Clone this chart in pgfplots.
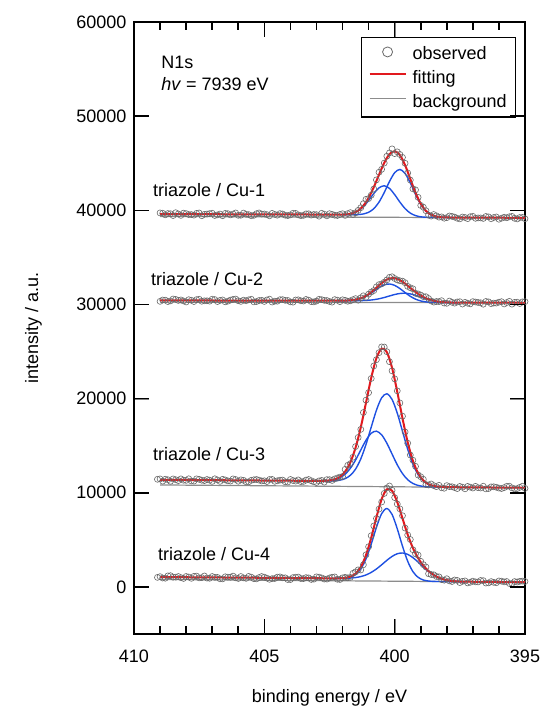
\documentclass[border=0pt]{standalone}
\usepackage{fontspec}
\setmainfont{Liberation Sans}
\usepackage{pgfplots}
\pgfplotsset{compat=1.18}
\usepackage{pgfplotstable}

\definecolor{fitred}{RGB}{225,25,30}
\definecolor{compblue}{RGB}{30,80,225}
\definecolor{bggray}{RGB}{140,140,140}
\definecolor{obsgray}{RGB}{105,105,105}

% fitted curves: x  component1  component2  fit
\pgfplotstableread{
x A B fit
402.0 39544 39525 39544
401.8 39585 39525 39587
401.6 39698 39529 39706
401.4 39943 39548 39973
401.2 40391 39614 40490
401.0 41043 39790 41324
400.8 41786 40174 42461
400.6 42388 40871 43778
400.4 42605 41890 45040
400.2 42327 43050 45957
400.0 41666 43994 46281
399.8 40872 44338 45872
399.6 40179 43918 44794
399.4 39702 42907 43332
399.2 39436 41694 41871
399.0 39311 40639 40701
398.8 39262 39918 39937
398.6 39245 39521 39526
398.4 39238 39336 39337
398.2 39235 39265 39265
398.0 39233 39241 39241
397.8 39231 39233 39233
}\fitone

\pgfplotstableread{
x A B fit
402.2 30398 30396 30398
402.0 30404 30395 30404
401.8 30421 30395 30422
401.6 30466 30397 30470
401.4 30562 30402 30573
401.2 30743 30417 30770
401.0 31028 30448 31090
400.8 31400 30507 31528
400.6 31788 30604 32025
400.4 32081 30739 32471
400.2 32174 30901 32751
400.0 32027 31056 32788
399.8 31687 31165 32586
399.6 31262 31191 32212
399.4 30865 31122 31764
399.2 30564 30972 31325
399.0 30375 30781 30952
398.8 30273 30590 30663
398.6 30225 30435 30462
398.4 30206 30325 30334
398.2 30198 30258 30260
398.0 30195 30222 30222
397.8 30194 30205 30205
397.6 30193 30197 30197
}\fittwo

\pgfplotstableread{
x A B fit
402.9 11256 11250 11257
402.7 11267 11248 11270
402.5 11302 11253 11314
402.3 11394 11274 11432
402.1 11595 11339 11702
401.9 11973 11503 12250
401.7 12597 11856 13233
401.5 13479 12513 14786
401.3 14542 13595 16952
401.1 15578 15126 19556
400.9 16320 16965 22196
400.7 16542 18766 24296
400.5 16154 20080 25311
400.3 15264 20514 24944
400.1 14113 19913 23270
399.9 12971 18452 20725
399.7 12038 16537 17914
399.5 11386 14617 15364
399.3 10989 13036 13399
399.1 10778 11927 12085
398.9 10675 11250 11311
398.7 10631 10886 10908
398.5 10612 10712 10719
398.3 10603 10639 10641
398.1 10597 10608 10609
397.9 10592 10595 10595
}\fitthree

\pgfplotstableread{
x A B fit
402.3 908 909 911
402.1 913 910 921
401.9 943 919 964
401.7 1043 944 1093
401.5 1312 996 1420
401.3 1902 1100 2119
401.1 2974 1273 3372
400.9 4539 1541 5218
400.7 6324 1905 7386
400.5 7784 2349 9318
400.3 8328 2822 10372
400.1 7703 3239 10208
399.9 6172 3523 9004
399.7 4331 3604 7281
399.5 2724 3457 5556
399.3 1625 3111 4130
399.1 1018 2638 3062
398.9 735 2120 2269
398.7 625 1642 1687
398.5 586 1254 1265
398.3 573 969 971
398.1 566 783 783
397.9 562 670 670
397.7 558 608 608
397.5 554 575 575
397.3 549 557 557
}\fitfour

% observed points
\pgfplotstableread{
x y
409.0 39720
408.8 39518
408.6 39636
408.4 39744
408.2 39461
408.0 39649
407.8 39547
407.6 39675
407.4 39423
407.2 39601
407.0 39689
406.8 39516
406.6 39424
406.4 39642
406.2 39600
406.0 39468
405.8 39706
405.6 39544
405.4 39471
405.2 39719
405.0 39607
404.8 39415
404.6 39563
404.4 39651
404.2 39479
404.0 39516
403.8 39674
403.6 39432
403.4 39620
403.2 39488
403.0 39536
402.8 39684
402.6 39411
402.4 39569
402.2 39447
402.0 39634
401.8 39647
401.6 39556
401.4 39993
401.2 40710
401.0 41244
400.8 42261
400.6 44038
400.4 45020
400.2 46097
400.0 46021
399.8 45932
399.6 44994
399.4 43212
399.2 42171
399.0 40521
398.8 39957
398.6 39386
398.4 39417
398.2 39305
398.0 39221
397.8 39353
397.6 39158
397.4 39286
397.2 39114
397.0 39361
396.8 39189
396.6 39137
396.4 39305
396.2 39233
396.0 39051
395.8 39259
395.6 39316
395.4 39154
395.2 39232
395.0 39100
408.9 39689
408.7 39657
408.5 39445
408.3 39613
408.1 39700
407.9 39548
407.7 39486
407.5 39714
407.3 39572
407.1 39650
406.9 39448
406.7 39605
406.5 39673
406.3 39511
406.1 39719
405.9 39477
405.7 39575
405.5 39423
405.3 39640
405.1 39598
404.9 39536
404.7 39674
404.5 39482
404.3 39610
404.1 39438
403.9 39685
403.7 39513
403.5 39461
403.3 39629
403.1 39557
402.9 39375
402.7 39583
402.5 39640
402.3 39478
402.1 39556
401.9 39459
401.7 39753
401.5 39736
401.3 40277
401.1 41164
400.9 41602
400.7 43231
400.5 44351
400.3 45741
400.1 46525
399.9 46210
399.7 45620
399.5 43968
399.3 42282
399.1 41375
398.9 40331
398.7 39496
398.5 39550
398.3 39272
398.1 39160
397.9 39396
397.7 39279
397.5 39087
397.3 39235
397.1 39323
396.9 39150
396.7 39188
396.5 39346
396.3 39104
396.1 39292
395.9 39160
395.7 39208
395.5 39355
395.3 39083
395.1 39241
}\obsone

\pgfplotstableread{
x y
409.0 30330
408.8 30459
408.6 30378
408.4 30537
408.2 30476
408.0 30265
407.8 30444
407.6 30513
407.4 30342
407.2 30391
407.0 30560
406.8 30309
406.6 30478
406.4 30347
406.2 30536
406.0 30395
405.8 30454
405.6 30493
405.4 30272
405.2 30421
405.0 30320
404.8 30559
404.6 30348
404.4 30507
404.2 30436
404.0 30275
403.8 30474
403.6 30393
403.4 30532
403.2 30301
403.0 30360
402.8 30509
402.6 30418
402.4 30247
402.2 30458
402.0 30494
401.8 30342
401.6 30510
401.4 30453
401.2 30920
401.0 31090
400.8 31478
400.6 32105
400.4 32361
400.2 32881
400.0 32758
399.8 32516
399.6 32312
399.4 31774
399.2 31185
399.0 31002
398.8 30823
398.6 30372
398.4 30314
398.2 30400
398.0 30122
397.8 30235
397.6 30267
397.4 30042
397.2 30131
397.0 30300
396.8 30209
396.6 30028
396.4 30277
396.2 30146
396.0 30245
395.8 30054
395.6 30333
395.4 30222
395.2 30101
395.0 30300
408.9 30470
408.7 30308
408.5 30577
408.3 30426
408.1 30375
407.9 30504
407.7 30313
407.5 30552
407.3 30391
407.1 30350
406.9 30519
406.7 30428
406.5 30277
406.3 30466
406.1 30575
405.9 30324
405.7 30393
405.5 30552
405.3 30311
405.1 30440
404.9 30479
404.7 30258
404.5 30347
404.3 30516
404.1 30425
403.9 30244
403.7 30493
403.5 30362
403.3 30461
403.1 30270
402.9 30549
402.7 30438
402.5 30317
402.3 30516
402.1 30301
401.9 30442
401.7 30391
401.5 30622
401.3 30708
401.1 30755
400.9 31318
400.7 31866
400.5 32183
400.3 32609
400.1 32942
399.9 32604
399.7 32475
399.5 31922
399.3 31660
399.1 31109
398.9 30837
398.7 30634
398.5 30251
398.3 30303
398.1 30148
397.9 30362
397.7 30140
397.5 30293
397.3 30222
397.1 30061
396.9 30260
396.7 30179
396.5 30318
396.3 30087
396.1 30146
395.9 30295
395.7 30204
395.5 30033
395.3 30242
395.1 30271
}\obstwo

\pgfplotstableread{
x y
409.1 11432
408.9 11238
408.7 11384
408.5 11469
408.3 11295
408.1 11331
407.9 11486
407.7 11242
407.5 11428
407.3 11294
407.1 11339
406.9 11485
406.7 11211
406.5 11366
406.3 11242
406.1 11408
405.9 11374
405.7 11159
405.5 11325
405.3 11411
405.1 11256
404.9 11192
404.7 11418
404.5 11274
404.3 11349
404.1 11145
403.9 11301
403.7 11366
403.5 11202
403.3 11408
403.1 11164
402.9 11267
402.7 11130
402.5 11394
402.3 11472
402.1 11662
401.9 12490
401.7 13093
401.5 14906
401.3 16732
401.1 19836
400.9 22136
400.7 24136
400.5 25491
400.3 24984
400.1 22950
399.9 20825
399.7 18134
399.5 15264
399.3 13459
399.1 11885
398.9 11431
398.7 10828
398.5 10759
398.3 10791
398.1 10479
397.9 10655
397.7 10548
397.5 10674
397.3 10419
397.1 10595
396.9 10681
396.7 10506
396.5 10412
396.3 10628
396.1 10584
395.9 10449
395.7 10685
395.5 10521
395.3 10446
395.1 10692
409.0 11470
408.8 11436
408.6 11221
408.4 11387
408.2 11473
408.0 11319
407.8 11254
407.6 11480
407.4 11336
407.2 11411
407.0 11207
406.8 11363
406.6 11429
406.4 11264
406.2 11470
406.0 11226
405.8 11321
405.6 11167
405.4 11383
405.2 11339
405.0 11274
404.8 11410
404.6 11216
404.4 11341
404.2 11167
404.0 11413
403.8 11239
403.6 11184
403.4 11350
403.2 11276
403.0 11091
402.8 11311
402.6 11395
402.4 11310
402.2 11571
402.0 11733
401.8 12917
401.6 13775
401.4 15875
401.2 18524
401.0 20637
400.8 23470
400.6 24879
400.4 25479
400.2 23926
400.0 22100
399.8 19539
399.6 16456
399.4 14007
399.2 12806
399.0 11702
398.8 10872
398.6 10934
398.4 10650
398.2 10530
398.0 10760
397.8 10640
397.6 10446
397.4 10591
397.2 10677
397.0 10503
396.8 10539
396.6 10694
396.4 10450
396.2 10636
396.0 10501
395.8 10547
395.6 10693
395.4 10419
395.2 10574
395.0 10470
}\obsthree

\pgfplotstableread{
x y
409.1 1012
408.9 948
408.7 1174
408.5 1029
408.3 1105
408.1 901
407.9 1056
407.7 1122
407.5 958
407.3 1164
407.1 919
406.9 1015
406.7 861
406.5 1076
406.3 1032
406.1 968
405.9 1104
405.7 909
405.5 1035
405.3 861
405.1 1106
404.9 932
404.7 878
404.5 1044
404.3 969
404.1 785
403.9 991
403.7 1046
403.5 882
403.3 958
403.1 824
402.9 1039
402.7 835
402.5 951
402.3 1061
402.1 791
401.9 1024
401.7 1013
401.5 1600
401.3 1799
401.1 3412
400.9 5438
400.7 7266
400.5 9018
400.3 10512
400.1 10268
399.9 8804
399.7 7561
399.5 5516
399.3 3950
399.1 3382
398.9 2369
398.7 1407
398.5 1285
398.3 1071
398.1 713
397.9 640
397.7 738
397.5 465
397.3 637
397.1 495
396.9 541
396.7 686
396.5 412
396.3 568
396.1 444
395.9 609
395.7 575
395.5 361
395.3 526
395.1 612
409.0 1090
408.8 926
408.6 1191
408.4 1037
408.2 983
408.0 1109
407.8 914
407.6 1150
407.4 986
407.2 941
407.0 1107
406.8 1013
406.6 859
406.4 1044
406.2 1150
406.0 896
405.8 961
405.6 1117
405.4 873
405.2 999
405.0 1034
404.8 810
404.6 896
404.4 1061
404.2 967
404.0 783
403.8 1029
403.6 894
403.4 990
403.2 796
403.0 1071
402.8 957
402.6 833
402.4 1032
402.2 814
402.0 966
401.8 963
401.6 1442
401.4 1812
401.2 2352
401.0 4266
400.8 6475
400.6 8266
400.4 9928
400.2 10721
400.0 9486
399.8 8295
399.6 6251
399.4 5039
399.2 3516
399.0 2718
398.8 2118
398.6 1318
398.4 1113
398.2 777
398.0 869
397.8 574
397.6 689
397.4 594
397.2 422
397.0 613
396.8 529
396.6 664
396.4 430
396.2 486
396.0 631
395.8 537
395.6 363
395.4 569
395.2 594
395.0 580
}\obsfour

\pgfplotsset{
  obs/.style={only marks, mark=o, mark size=3pt, mark options={draw=obsgray, line width=0.6pt}, forget plot},
  comp/.style={compblue, line width=1.4pt, smooth, forget plot},
  fitl/.style={fitred, line width=2pt, forget plot},
  bgl/.style={bggray, line width=1.2pt, forget plot},
}

\begin{document}
\begin{tikzpicture}[font=\fontsize{18}{21}\selectfont]
\useasboundingbox (0,0) rectangle (545pt,711pt);
\begin{axis}[
  at={(134pt,77pt)}, anchor=south west,
  scale only axis, width=391pt, height=612pt,
  x dir=reverse,
  xmin=395, xmax=410, ymin=-5000, ymax=60000,
  xtick={395,400,405,410}, minor x tick num=4,
  ytick={0,10000,...,60000},
  tick align=inside,
  major tick length=15pt, minor tick length=8pt,
  axis line style={line width=1.6pt},
  tick label style={font=\fontsize{18}{21}\selectfont},
  /pgf/number format/assume math mode=true,
  /pgf/number format/1000 sep={},
  scaled y ticks=false,
  xticklabel style={yshift=-12pt},
  yticklabel style={xshift=-4pt},
  legend cell align=left,
  legend style={at={(0.978,0.976)}, anchor=north east, draw=black,
    line width=1.5pt, font=\fontsize{18}{21}\selectfont,
    inner xsep=7pt, inner ysep=3.5pt, row sep=0pt, column sep=4pt,
    nodes={text height=13.5pt, text depth=4pt, inner ysep=2pt, inner xsep=2pt}},
]
% background lines
\addplot[bgl] coordinates {(409,39350) (395,39200)};
\addplot[bgl] coordinates {(409,30250) (395,30180)};
\addplot[bgl] coordinates {(409,10830) (395,10530)};
\addplot[bgl] coordinates {(409,800) (395,500)};

% observed
\addplot[obs] table[x=x,y=y]{\obsone};
\addplot[obs] table[x=x,y=y]{\obstwo};
\addplot[obs] table[x=x,y=y]{\obsthree};
\addplot[obs] table[x=x,y=y]{\obsfour};

% components
\addplot[comp] table[x=x,y=A]{\fitone};
\addplot[comp] table[x=x,y=B]{\fitone};
\addplot[comp] table[x=x,y=A]{\fittwo};
\addplot[comp] table[x=x,y=B]{\fittwo};
\addplot[comp] table[x=x,y=A]{\fitthree};
\addplot[comp] table[x=x,y=B]{\fitthree};
\addplot[comp] table[x=x,y=A]{\fitfour};
\addplot[comp] table[x=x,y=B]{\fitfour};

% fits
\addplot[fitl, smooth] table[x=x,y=fit]{\fitone};
\addplot[fitl, smooth] table[x=x,y=fit]{\fittwo};
\addplot[fitl, smooth] table[x=x,y=fit]{\fitthree};
\addplot[fitl, smooth] table[x=x,y=fit]{\fitfour};
\addplot[fitl] coordinates {(409,39600) (402.0,39544)};
\addplot[fitl] coordinates {(397.8,39233) (395,39200)};
\addplot[fitl] coordinates {(409,30430) (402.2,30398)};
\addplot[fitl] coordinates {(397.6,30197) (395,30180)};
\addplot[fitl] coordinates {(409,11380) (402.9,11257)};
\addplot[fitl] coordinates {(397.9,10595) (395,10530)};
\addplot[fitl] coordinates {(409,1050) (402.3,911)};
\addplot[fitl] coordinates {(397.3,557) (395,500)};

\addlegendimage{legend image code/.code={\path[draw=none] (0pt,-4pt) rectangle (36pt,13.5pt); \draw[draw=obsgray, line width=0.8pt] (18pt,2.5pt) circle (5pt);}}
\addlegendentry{observed}
\addlegendimage{legend image code/.code={\path[draw=none] (0pt,-4pt) rectangle (36pt,13.5pt); \draw[draw=fitred, line width=2pt] (0pt,4.5pt) -- (36pt,4.5pt);}}
\addlegendentry{fitting}
\addlegendimage{legend image code/.code={\path[draw=none] (0pt,-4pt) rectangle (36pt,13.5pt); \draw[draw=bggray, line width=1.4pt] (0pt,4.5pt) -- (36pt,4.5pt);}}
\addlegendentry{background}

\node[anchor=base west, inner sep=0pt] at (axis cs:408.96,55077) {N1s};
\node[anchor=base west, inner sep=0pt] at (axis cs:408.96,52738) {\textit{hv} = 7939 eV};
\node[anchor=base west, inner sep=0pt] at (axis cs:409.27,41414) {triazole / Cu-1};
\node[anchor=base west, inner sep=0pt] at (axis cs:409.35,32057) {triazole / Cu-2};
\node[anchor=base west, inner sep=0pt] at (axis cs:409.27,13397) {triazole / Cu-3};
\node[anchor=base west, inner sep=0pt] at (axis cs:409.08,2764) {triazole / Cu-4};
\end{axis}
% tick marks, drawn on the page over the axis frame
\foreach \x in {264.33,394.67}{
  \draw[draw=black, line width=1.6pt] (\x pt,77pt) -- (\x pt,92pt);
  \draw[draw=black, line width=1.6pt] (\x pt,689pt) -- (\x pt,674pt);
}
\foreach \x in {160.07,186.13,212.2,238.27,290.4,316.47,342.53,368.6,420.73,446.8,472.87,498.93}{
  \draw[draw=black, line width=1.6pt] (\x pt,77pt) -- (\x pt,85pt);
  \draw[draw=black, line width=1.6pt] (\x pt,689pt) -- (\x pt,681pt);
}
\foreach \y in {124.08,218.23,312.38,406.54,500.69,594.85}{
  \draw[draw=black, line width=1.6pt] (134pt,\y pt) -- (149pt,\y pt);
  \draw[draw=black, line width=1.6pt] (525pt,\y pt) -- (510pt,\y pt);
}
\node[rotate=90, anchor=base] at (38pt,383pt) {intensity / a.u.};
\node[anchor=base] at (329.5pt,9pt) {binding energy / eV};
\end{tikzpicture}
\end{document}
